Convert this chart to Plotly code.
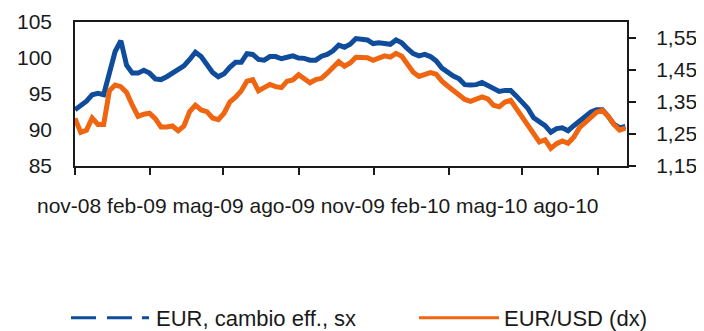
import pandas as pd
import plotly.graph_objects as go

# Weekly observations, Nov 2008 - Sep 2010
dates = pd.date_range(start="2008-11-01", periods=97, freq="7D")

eur_eff = [
    92.8, 93.3, 94.0, 94.9, 95.1, 94.9, 97.8, 100.9, 102.4, 99.0,
    97.9, 97.9, 98.3, 97.9, 97.1, 97.0, 97.4, 97.9, 98.4, 98.9,
    99.8, 100.8, 100.2, 99.0, 98.0, 97.4, 97.8, 98.7, 99.4, 99.4,
    100.6, 100.5, 99.8, 99.7, 100.2, 100.2, 99.9, 100.1, 100.3, 100.0,
    99.95, 99.7, 99.7, 100.25, 100.5, 101.0, 101.8, 101.5, 101.9, 102.7,
    102.6, 102.5, 102.0, 102.1, 102.0, 101.9, 102.5, 102.1, 101.3, 100.6,
    100.3, 100.5, 100.2, 99.6, 98.6, 98.0, 97.5, 97.1, 96.3, 96.25,
    96.3, 96.6, 96.2, 95.7, 95.35, 95.5, 95.5, 94.7, 93.9, 93.0,
    91.7, 91.2, 90.6, 89.7, 90.2, 90.3, 89.9, 90.6, 91.2, 92.0,
    92.5, 92.8, 92.8, 91.9, 90.8, 90.3, 90.5,
]

eur_usd = [
    1.299, 1.255, 1.262, 1.300, 1.280, 1.280, 1.385, 1.403, 1.398, 1.380,
    1.340, 1.305, 1.312, 1.315, 1.298, 1.272, 1.272, 1.275, 1.260, 1.275,
    1.320, 1.340, 1.325, 1.320, 1.300, 1.295, 1.315, 1.350, 1.365, 1.385,
    1.415, 1.420, 1.385, 1.395, 1.405, 1.398, 1.395, 1.415, 1.419, 1.435,
    1.420, 1.410, 1.420, 1.424, 1.440, 1.460, 1.476, 1.462, 1.472, 1.490,
    1.490, 1.488, 1.480, 1.485, 1.494, 1.490, 1.502, 1.493, 1.465, 1.443,
    1.430, 1.436, 1.442, 1.437, 1.415, 1.400, 1.387, 1.375, 1.358, 1.352,
    1.357, 1.366, 1.360, 1.340, 1.335, 1.350, 1.355, 1.330, 1.303, 1.280,
    1.255, 1.225, 1.232, 1.205, 1.220, 1.228, 1.221, 1.240, 1.270, 1.285,
    1.300, 1.318, 1.324, 1.305, 1.280, 1.262, 1.268,
]

x_tick_dates = ["2008-11-01", "2009-02-01", "2009-05-01", "2009-08-01",
                "2009-11-01", "2010-02-01", "2010-05-01", "2010-08-01"]
x_tick_labels = ["nov-08", "feb-09", "mag-09", "ago-09",
                 "nov-09", "feb-10", "mag-10", "ago-10"]

left_ticks = [85, 90, 95, 100, 105]
left_labels = ["85", "90", "95", "100", "105"]
right_ticks = [1.15, 1.25, 1.35, 1.45, 1.55]
right_labels = ["1,15", "1,25", "1,35", "1,45", "1,55"]

name_eff = "EUR, cambio eff., sx"
name_usd = "EUR/USD (dx)"

BLUE = "#0f4c9c"
ORANGE = "#f0650f"
FONT = "Liberation Sans, Arial, sans-serif"
TXT = "#1a1a1a"

# the page adds an 8px body margin, so the figure is sized to the visible area
W, H = 696, 323

fig = go.Figure()

fig.add_trace(go.Scatter(x=dates, y=eur_eff, mode="lines", name=name_eff,
                         line=dict(color=BLUE, width=5), showlegend=False,
                         yaxis="y"))
fig.add_trace(go.Scatter(x=dates, y=eur_usd, mode="lines", name=name_usd,
                         line=dict(color=ORANGE, width=5), showlegend=False,
                         yaxis="y2"))
# legend entries
fig.add_trace(go.Scatter(x=[None], y=[None], mode="lines", name=name_eff,
                         line=dict(color=BLUE, width=3,
                                   dash="25px,11px,25px,10px,7px,200px"),
                         legend="legend"))
fig.add_trace(go.Scatter(x=[None], y=[None], mode="lines", name=name_usd,
                         line=dict(color=ORANGE, width=3),
                         legend="legend2"))

legend_common = dict(
    orientation="h", xref="container", yref="container",
    xanchor="left", yanchor="middle", itemwidth=80,
    font=dict(size=22, color=TXT), bgcolor="rgba(0,0,0,0)",
)

fig.update_layout(
    width=W, height=H,
    margin=dict(l=67, r=77, t=14, b=165, autoexpand=False),
    paper_bgcolor="white", plot_bgcolor="white",
    font=dict(family=FONT, size=21, color=TXT),
    xaxis=dict(
        type="date", range=["2008-11-01", "2010-09-06"],
        tickvals=x_tick_dates, ticktext=x_tick_labels, showticklabels=False,
        ticks="outside", ticklen=7, tickcolor=TXT, tickwidth=1.5,
        showgrid=False, zeroline=False,
        showline=True, linecolor=TXT, linewidth=1.5, mirror=True,
    ),
    yaxis=dict(
        range=[85, 105], tickvals=left_ticks, ticktext=left_labels,
        ticks="", showgrid=False, zeroline=False,
        showline=True, linecolor=TXT, linewidth=1.5, mirror=True,
        ticklabelstandoff=17,
        tickfont=dict(size=21),
    ),
    yaxis2=dict(
        range=[1.15, 1.60], tickvals=right_ticks, ticktext=right_labels,
        overlaying="y", side="right", anchor="x",
        ticks="outside", ticklen=8, tickcolor=TXT, tickwidth=1.5,
        showgrid=False, zeroline=False, showline=False,
        ticklabelstandoff=16,
        tickfont=dict(size=21),
    ),
    yaxis3=dict(
        range=[1.15, 1.60], tickvals=right_ticks,
        overlaying="y", side="right", anchor="x",
        ticks="inside", ticklen=7, tickcolor=TXT, tickwidth=1.5,
        showticklabels=False, showgrid=False, zeroline=False, showline=False,
    ),
    legend=dict(x=58 / W, y=1 - 310 / H, **legend_common),
    legend2=dict(x=406 / W, y=1 - 310 / H, **legend_common),
    annotations=[dict(
        text=" ".join(x_tick_labels), xref="paper", yref="paper",
        x=(35 - 75) / 552, y=(166 - 205) / 144, xanchor="left", yanchor="middle",
        showarrow=False, font=dict(size=21, color=TXT),
    )],
)

fig.write_html("out.html")
